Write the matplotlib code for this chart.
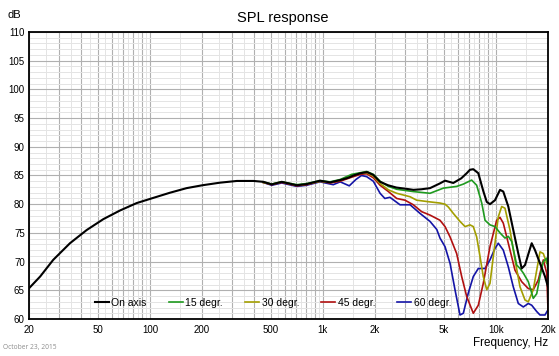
import numpy as np
import matplotlib
matplotlib.use("Agg")
import matplotlib.pyplot as plt
from matplotlib.ticker import FixedLocator, FixedFormatter, NullFormatter

plt.rcParams['font.family'] = ['Liberation Sans', 'DejaVu Sans']

# ---------------- data ----------------
freq_on = [20, 23.2, 27.6, 34.5, 43.1, 53.8, 67.1, 83.9, 104.6, 130.6, 163, 201, 254, 318, 397, 452,
           506, 578, 706, 805, 962, 1100, 1258, 1400, 1500, 1650, 1800, 1956, 2140, 2380, 2660,
           3000, 3335, 3710, 4160, 4730, 5080, 5670, 6300, 6780, 7080, 7400, 7910, 8450, 8850,
           9240, 9880, 10560, 11030, 11790, 12600, 13470, 14090, 14730, 15390, 16100, 16820,
           17980, 19220, 20000]
db_on = [65.35, 67.4, 70.3, 73.2, 75.5, 77.4, 78.9, 80.2, 81.1, 82.0, 82.8, 83.3, 83.75, 84.05, 84.05, 83.9,
         83.45, 83.9, 83.3, 83.5, 84.1, 83.8, 84.2, 84.6, 85.0, 85.4, 85.6, 85.1, 83.9, 83.3, 82.9,
         82.7, 82.5, 82.6, 82.8, 83.6, 84.1, 83.7, 84.5, 85.4, 86.0, 86.1, 85.4, 82.3, 80.4,
         80.0, 80.7, 82.5, 82.2, 79.6, 75.5, 71.4, 68.8, 69.4, 71.3, 73.2, 72.0,
         69.7, 67.4, 65.6]

freq_15 = [450, 506, 578, 706, 805, 962, 1100, 1258, 1465, 1650, 1790, 1956, 2140, 2390, 2670,
           3330, 4160, 4970, 5930, 6480, 7240, 7740, 8280, 8650, 9240, 9880, 10560, 11280,
           11790, 12340, 13190, 13780, 14400, 15390, 16440, 17210, 17980, 18790, 19660, 20000]
db_15 = [83.9, 83.5, 83.9, 83.4, 83.6, 84.1, 83.9, 84.3, 85.2, 85.5, 85.7, 85.2, 84.0, 83.1, 82.6,
         82.2, 81.9, 82.8, 83.1, 83.5, 84.2, 83.3, 80.2, 77.2, 76.4, 76.1, 75.0, 74.1,
         74.4, 73.5, 69.4, 68.8, 68.0, 66.5, 63.6, 64.4, 67.4, 70.0, 70.6, 68.5]

freq_30 = [450, 506, 578, 706, 805, 962, 1100, 1258, 1465, 1650, 1790, 1956, 2140, 2390, 2670,
           3190, 3480, 4160, 4750, 5080, 5310, 5670, 6200, 6630, 7080, 7400, 7740, 8090, 8450,
           8850, 9240, 9660, 10320, 10800, 11280, 12060, 12890, 13780, 14730, 15390, 16440,
           17210, 17980, 18790, 19660, 20000]
db_30 = [83.8, 83.5, 83.9, 83.3, 83.5, 84.0, 83.8, 84.2, 85.0, 85.4, 85.5, 84.9, 83.6, 82.5, 81.9,
         81.3, 80.7, 80.4, 80.2, 80.0, 79.5, 78.4, 77.0, 76.1, 76.4, 76.1, 74.3, 70.9, 67.4,
         65.1, 66.2, 70.9, 77.8, 79.6, 79.3, 75.5, 70.3, 65.6, 63.3, 63.0, 65.1,
         68.5, 71.7, 71.4, 69.7, 69.7]

freq_45 = [450, 506, 578, 706, 805, 962, 1100, 1258, 1465, 1650, 1790, 1956, 2140, 2390, 2670,
           2980, 3330, 3720, 4160, 4750, 5080, 5430, 5930, 6340, 6780, 7400, 7910, 8450, 9240,
           10100, 10560, 11030, 11790, 12890, 14090, 15390, 16440, 17580, 18790, 19660, 20000]
db_45 = [83.8, 83.4, 83.8, 83.2, 83.4, 84.0, 83.7, 84.0, 84.7, 85.2, 85.3, 84.6, 83.3, 82.2, 81.0,
         80.7, 79.9, 78.7, 78.1, 77.2, 76.1, 74.3, 71.4, 67.4, 63.9, 61.0, 62.4, 66.2, 72.6,
         77.2, 77.7, 76.7, 73.2, 68.5, 66.5, 65.3, 65.1, 66.8, 70.3, 68.0, 61.6]

freq_60 = [450, 506, 578, 706, 805, 962, 1148, 1258, 1420, 1550, 1670, 1790, 1956, 2140, 2280,
           2440, 2790, 3190, 3640, 4160, 4550, 4750, 5080, 5430, 5800, 6200, 6480, 6920, 7400,
           7910, 8650, 9240, 9880, 10320, 11030, 11790, 12600, 13470, 14400, 15390, 16100,
           17210, 17980, 19220, 20000]
db_60 = [83.8, 83.3, 83.7, 83.1, 83.3, 83.9, 83.4, 83.9, 83.2, 84.3, 85.0, 84.8, 84.0, 81.9, 81.0,
         81.2, 79.9, 79.9, 78.4, 77.0, 75.6, 74.1, 72.6, 69.7, 65.1, 60.7, 61.0, 64.5, 67.4,
         68.8, 68.8, 70.3, 72.3, 73.2, 72.0, 69.1, 65.6, 62.7, 62.1, 62.7, 62.4,
         61.3, 60.7, 60.7, 61.6]

series_names = ["On axis", "15 degr.", "30 degr.", "45 degr.", "60 degr."]
series_colors = ["#000000", "#1f9a1f", "#a39e00", "#b01010", "#1414a6"]

xtick_values = [20, 50, 100, 200, 500, 1000, 2000, 5000, 10000, 20000]
xtick_labels = ["20", "50", "100", "200", "500", "1k", "2k", "5k", "10k", "20k"]
ytick_values = [60, 65, 70, 75, 80, 85, 90, 95, 100, 105, 110]

# ---------------- figure ----------------
W, H = 559, 356
fig = plt.figure(figsize=(W / 100, H / 100), dpi=100)
ax = fig.add_axes([29 / W, 1 - 319 / H, (548 - 29) / W, (319 - 32) / H])
ax.set_xscale('log')
ax.set_xlim(20, 20000)
ax.set_ylim(60, 110)

# grid lines
major_x = [m * 10 ** d for d in range(1, 5) for m in range(1, 10) if 20 <= m * 10 ** d <= 20000]
minor_x = [(m + 0.5) * 10 ** d for d in range(1, 5) for m in range(1, 10) if 20 < (m + 0.5) * 10 ** d < 20000]
ax.xaxis.set_major_locator(FixedLocator(major_x))
ax.xaxis.set_major_formatter(FixedFormatter(
    [xtick_labels[xtick_values.index(v)] if v in xtick_values else "" for v in major_x]))
ax.xaxis.set_minor_locator(FixedLocator(minor_x))
ax.xaxis.set_minor_formatter(NullFormatter())
ax.yaxis.set_major_locator(FixedLocator(ytick_values))
ax.yaxis.set_minor_locator(FixedLocator(list(range(60, 111))))
ax.grid(which='major', color='#b0b0b0', linewidth=0.8)
ax.grid(which='minor', color='#e4e4e4', linewidth=0.7)
ax.set_axisbelow(True)
ax.tick_params(which='both', length=0)
ax.tick_params(axis='x', labelsize=7, pad=4)
ax.tick_params(axis='y', labelsize=7, pad=3)
for s in ax.spines.values():
    s.set_color('black')
    s.set_linewidth(1.3)

data = [(freq_on, db_on), (freq_15, db_15), (freq_30, db_30), (freq_45, db_45), (freq_60, db_60)]
handles = [None] * 5
for i in [4, 3, 2, 1, 0]:
    f, d = data[i]
    lw = 1.5 if i == 0 else 1.2
    handles[i], = ax.plot(f, d, color=series_colors[i], linewidth=lw, label=series_names[i],
                          solid_joinstyle='round', clip_on=True)

leg = ax.legend(handles, series_names, loc='center', bbox_to_anchor=(0.47, 0.056), ncol=5,
                frameon=False, fontsize=7.5, handlelength=1.35, handletextpad=0.25,
                columnspacing=2.1, borderpad=0)

fig.text(283 / W, 1 - 18 / H, "SPL response", ha='center', va='center', fontsize=10.5)
fig.text(8 / W, 1 - 15 / H, "dB", ha='left', va='center', fontsize=8)
fig.text(548 / W, 1 - 343 / H, "Frequency, Hz", ha='right', va='center', fontsize=8.4)
fig.text(3 / W, 1 - 348 / H, "October 23, 2015", ha='left', va='center', fontsize=4.8, color='#8c8c8c',
         family=['Open Sans', 'DejaVu Sans'])

fig.savefig("out.png", dpi=100)
